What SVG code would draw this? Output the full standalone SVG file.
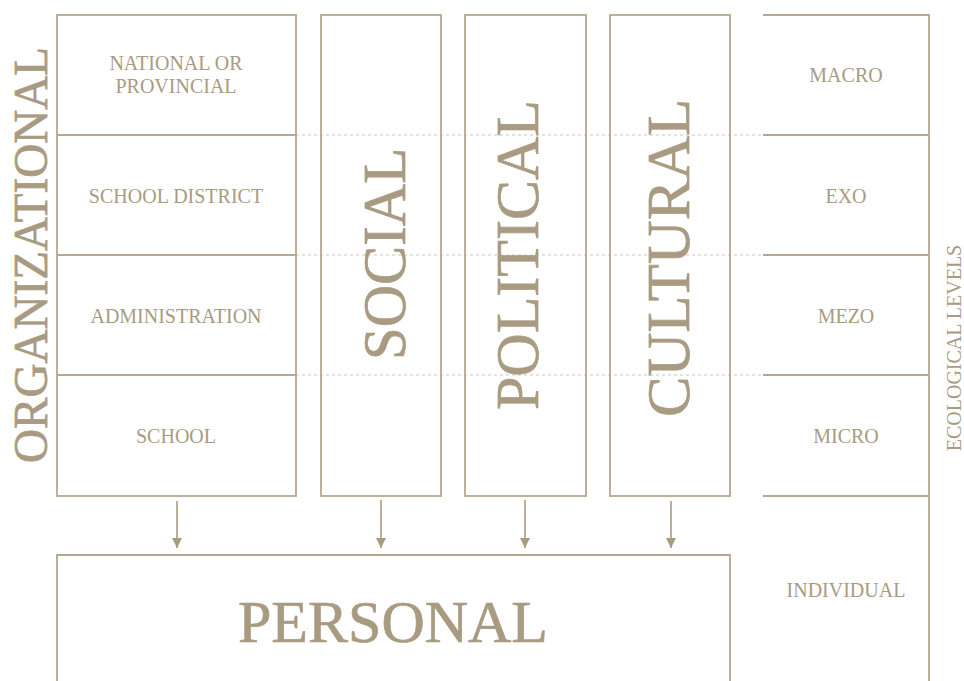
<svg xmlns="http://www.w3.org/2000/svg" width="964" height="681" viewBox="0 0 964 681">
<defs>
<style>
.box{fill:none;stroke:#b5a88f;stroke-width:1.8}
.ln{stroke:#b5a88f;stroke-width:1.8;fill:none}
.dash{stroke:#cdc5b6;stroke-width:1.2;stroke-dasharray:3 3;fill:none}
.t{font-family:"Liberation Serif","Times New Roman",serif;fill:#a99b81;text-anchor:middle}
.s{font-size:20px}
.big{font-size:62px;stroke:#a99b81;stroke-width:0.7}
.arr{stroke:#a99b81;stroke-width:1.6;fill:none}
</style>
<marker id="ah" markerUnits="userSpaceOnUse" markerWidth="11" markerHeight="11" viewBox="0 0 11 11" refX="10" refY="5.5" orient="auto">
<path d="M0,0.5 L10,5.5 L0,10.5 Z" fill="#a99b81"/>
</marker>
</defs>
<rect width="964" height="681" fill="#ffffff"/>

<g id="guides">
<line class="dash" x1="296" y1="135" x2="763" y2="135"/>
<line class="dash" x1="296" y1="255" x2="763" y2="255"/>
<line class="dash" x1="296" y1="375" x2="763" y2="375"/>
</g>

<g id="organizational">
<rect class="box" x="57" y="15" width="239" height="481"/>
<line class="ln" x1="57" y1="135" x2="296" y2="135"/>
<line class="ln" x1="57" y1="255" x2="296" y2="255"/>
<line class="ln" x1="57" y1="375" x2="296" y2="375"/>
<text class="t big" transform="translate(47,255) rotate(-90)" font-size="48" style="font-size:48px" textLength="416" lengthAdjust="spacingAndGlyphs">ORGANIZATIONAL</text>
<text class="t s" x="176" y="70">NATIONAL OR</text>
<text class="t s" x="176" y="93">PROVINCIAL</text>
<text class="t s" x="176" y="203">SCHOOL DISTRICT</text>
<text class="t s" x="176" y="323">ADMINISTRATION</text>
<text class="t s" x="176" y="443">SCHOOL</text>
</g>

<g id="social">
<rect class="box" x="321" y="15" width="120" height="481"/>
<text class="t big" transform="translate(405,254) rotate(-90)" textLength="212" lengthAdjust="spacingAndGlyphs">SOCIAL</text>
</g>

<g id="political">
<rect class="box" x="465" y="15" width="121" height="481"/>
<text class="t big" transform="translate(538,255) rotate(-90)" textLength="310" lengthAdjust="spacingAndGlyphs">POLITICAL</text>
</g>

<g id="cultural">
<rect class="box" x="610" y="15" width="120" height="481"/>
<text class="t big" transform="translate(689,258) rotate(-90)" textLength="318" lengthAdjust="spacingAndGlyphs">CULTURAL</text>
</g>

<g id="ecological-levels">
<path class="ln" d="M763,15 H929 V681"/>
<line class="ln" x1="763" y1="135" x2="929" y2="135"/>
<line class="ln" x1="763" y1="255" x2="929" y2="255"/>
<line class="ln" x1="763" y1="375" x2="929" y2="375"/>
<line class="ln" x1="763" y1="496" x2="929" y2="496"/>
<text class="t s" x="846" y="82">MACRO</text>
<text class="t s" x="846" y="203">EXO</text>
<text class="t s" x="846" y="323">MEZO</text>
<text class="t s" x="846" y="443">MICRO</text>
<text class="t s" x="846" y="597">INDIVIDUAL</text>
<text class="t s" transform="translate(961,348) rotate(-90)">ECOLOGICAL LEVELS</text>
</g>

<g id="personal">
<path class="ln" d="M57,690 V555 H730 V690"/>
<text class="t big" x="393" y="642" style="font-size:60px">PERSONAL</text>
</g>

<g id="connectors">
<line class="arr" x1="177" y1="501" x2="177" y2="548" marker-end="url(#ah)"/>
<line class="arr" x1="381" y1="500" x2="381" y2="548" marker-end="url(#ah)"/>
<line class="arr" x1="525" y1="500" x2="525" y2="548" marker-end="url(#ah)"/>
<line class="arr" x1="671" y1="501" x2="671" y2="548" marker-end="url(#ah)"/>
</g>
</svg>
